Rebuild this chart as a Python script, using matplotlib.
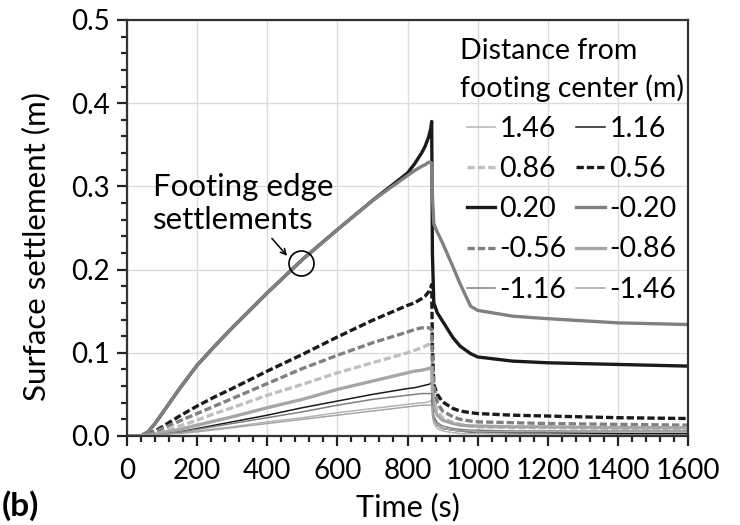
import matplotlib
matplotlib.use("Agg")
import matplotlib.pyplot as plt
from matplotlib.ticker import MultipleLocator, FormatStrFormatter

plt.rcParams['font.family'] = ['Lato', 'DejaVu Sans']

# ---- data ----
time_s = [0, 40, 60, 80, 100, 150, 200, 250, 300, 400, 500, 600, 700, 800, 820, 840, 850,
          860, 866, 869, 871, 875, 885, 900, 930, 950, 980, 1000, 1100, 1200, 1400, 1600]

s_p146 = [0, 0, 0.0005, 0.001, 0.002, 0.004, 0.006, 0.0085, 0.011, 0.017, 0.022, 0.028, 0.033, 0.038, 0.039, 0.040, 0.040,
          0.041, 0.042, 0.044, 0.025, 0.015, 0.009, 0.006, 0.004, 0.003, 0.003, 0.003, 0.002, 0.002, 0.002, 0.002]
s_p116 = [0, 0, 0.0005, 0.001, 0.002, 0.005, 0.009, 0.013, 0.017, 0.025, 0.034, 0.042, 0.050, 0.057, 0.058, 0.060, 0.061,
          0.062, 0.063, 0.065, 0.035, 0.020, 0.013, 0.009, 0.007, 0.006, 0.005, 0.005, 0.004, 0.004, 0.003, 0.003]
s_p086 = [0, 0, 0.001, 0.003, 0.005, 0.012, 0.019, 0.027, 0.034, 0.049, 0.062, 0.076, 0.088, 0.100, 0.103, 0.106, 0.108,
          0.110, 0.112, 0.113, 0.070, 0.045, 0.030, 0.022, 0.016, 0.014, 0.012, 0.011, 0.010, 0.010, 0.009, 0.009]
s_p056 = [0, 0, 0.002, 0.006, 0.011, 0.024, 0.036, 0.047, 0.057, 0.078, 0.098, 0.119, 0.139, 0.157, 0.160, 0.165, 0.168,
          0.173, 0.178, 0.182, 0.110, 0.062, 0.050, 0.041, 0.033, 0.030, 0.028, 0.027, 0.025, 0.024, 0.022, 0.021]
s_p020 = [0, 0, 0.005, 0.015, 0.027, 0.057, 0.085, 0.108, 0.130, 0.172, 0.212, 0.248, 0.283, 0.316, 0.327, 0.340, 0.348,
          0.359, 0.369, 0.378, 0.220, 0.160, 0.148, 0.138, 0.118, 0.108, 0.099, 0.095, 0.090, 0.088, 0.086, 0.084]
s_m020 = [0, 0, 0.005, 0.015, 0.027, 0.057, 0.085, 0.108, 0.130, 0.172, 0.212, 0.248, 0.283, 0.313, 0.319, 0.324, 0.326,
          0.329, 0.329, 0.328, 0.290, 0.255, 0.245, 0.232, 0.203, 0.183, 0.156, 0.151, 0.144, 0.141, 0.136, 0.134]
s_m056 = [0, 0, 0.002, 0.005, 0.009, 0.018, 0.027, 0.036, 0.045, 0.063, 0.081, 0.097, 0.112, 0.125, 0.128, 0.130, 0.130,
          0.130, 0.129, 0.128, 0.090, 0.060, 0.040, 0.030, 0.023, 0.020, 0.018, 0.017, 0.016, 0.015, 0.014, 0.013]
s_m086 = [0, 0, 0.001, 0.002, 0.004, 0.008, 0.013, 0.018, 0.023, 0.034, 0.044, 0.056, 0.066, 0.076, 0.078, 0.079, 0.080,
          0.081, 0.082, 0.082, 0.055, 0.035, 0.025, 0.019, 0.015, 0.013, 0.012, 0.012, 0.011, 0.011, 0.010, 0.010]
s_m116 = [0, 0, 0.0005, 0.001, 0.002, 0.005, 0.008, 0.0115, 0.015, 0.022, 0.029, 0.037, 0.044, 0.049, 0.050, 0.051, 0.051,
          0.051, 0.051, 0.051, 0.035, 0.024, 0.016, 0.012, 0.009, 0.008, 0.007, 0.007, 0.006, 0.006, 0.006, 0.006]
s_m146 = [0, 0, 0.0005, 0.001, 0.002, 0.003, 0.005, 0.0075, 0.010, 0.015, 0.020, 0.025, 0.030, 0.035, 0.036, 0.037, 0.037,
          0.037, 0.037, 0.037, 0.028, 0.020, 0.013, 0.009, 0.007, 0.006, 0.006, 0.005, 0.005, 0.005, 0.005, 0.005]

labels = ['1.46', '1.16', '0.86', '0.56', '0.20', '-0.20', '-0.56', '-0.86', '-1.16', '-1.46']
series = [s_p146, s_p116, s_p086, s_p056, s_p020, s_m020, s_m056, s_m086, s_m116, s_m146]

# ---- styles ----
thin, thick = 1.1, 2.4
styles = [
    dict(color='#b4b4b4', lw=thin, ls='-'),
    dict(color='#1a1a1a', lw=thin, ls='-'),
    dict(color='#c0c0c0', lw=thick, dashes=(2.2, 0.9)),
    dict(color='#1a1a1a', lw=thick, dashes=(2.2, 0.9)),
    dict(color='#1a1a1a', lw=thick, ls='-'),
    dict(color='#808080', lw=thick, ls='-'),
    dict(color='#808080', lw=thick, dashes=(2.2, 0.9)),
    dict(color='#a6a6a6', lw=thick, ls='-'),
    dict(color='#808080', lw=thin, ls='-'),
    dict(color='#a6a6a6', lw=thin, ls='-'),
]

FS = 20.5
fig = plt.figure(figsize=(7.4, 5.25), dpi=100)
ax = fig.add_axes([127/740, 1-436/525, (688-127)/740, (436-20)/525])

handles = []
for lab, s, st in zip(labels, series, styles):
    h, = ax.plot(time_s, s, label=lab, solid_joinstyle='round', **st)
    handles.append(h)

ax.set_xlim(0, 1600)
ax.set_ylim(0, 0.5)
ax.xaxis.set_major_locator(MultipleLocator(200))
ax.xaxis.set_minor_locator(MultipleLocator(40))
ax.yaxis.set_major_locator(MultipleLocator(0.1))
ax.yaxis.set_minor_locator(MultipleLocator(0.02))
ax.yaxis.set_major_formatter(FormatStrFormatter('%.1f'))
ax.grid(True, which='major', color='#dcdcdc', lw=1.0)
ax.set_axisbelow(True)
ax.tick_params(which='major', direction='out', length=7.5, width=1.6, color='#222222',
               labelsize=20)
ax.tick_params(axis='x', which='major', pad=8)
ax.tick_params(axis='y', which='major', pad=5)
ax.tick_params(which='minor', direction='out', length=4.5, width=1.6, color='#222222')
for sp in ax.spines.values():
    sp.set_linewidth(1.6)
    sp.set_color('#333333')

ax.set_xlabel('Time (s)', fontsize=22, labelpad=7)
ax.set_ylabel('Surface settlement (m)', fontsize=22.5)
ax.yaxis.set_label_coords(-0.136, 0.455)

order = [0, 2, 4, 6, 8, 1, 3, 5, 7, 9]
leg = ax.legend([handles[i] for i in order], [labels[i] for i in order], ncol=2,
                loc='upper right', bbox_to_anchor=(1.02, 0.995), frameon=False,
                fontsize=FS, title='Distance from\nfooting center (m)', title_fontsize=FS,
                handlelength=1.0, handletextpad=0.15, columnspacing=0.35,
                labelspacing=0.5, borderaxespad=0.15)
leg._legend_box.align = 'center'
leg.get_title().set_linespacing(1.45)

ax.text(74, 0.2795, 'Footing edge\nsettlements', fontsize=22.5, ha='left', va='center',
        linespacing=1.25)
ax.plot([496], [0.208], marker='o', ms=18, mfc='none', mec='black', mew=1.2)
ax.annotate('', xy=(462, 0.214), xytext=(408, 0.240),
            arrowprops=dict(arrowstyle='->', color='black', lw=1.1))

fig.text(0.003, 0.008, '(b)', fontsize=24, fontweight='bold', ha='left', va='bottom')

fig.savefig('out.png', dpi=100)
